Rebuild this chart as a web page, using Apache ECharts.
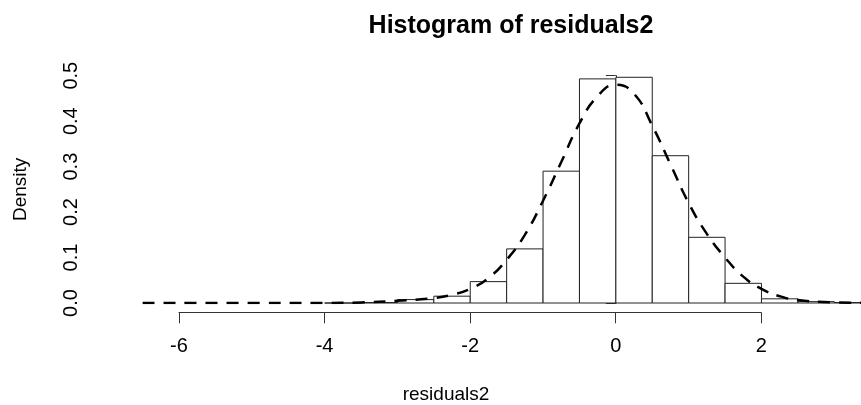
<!DOCTYPE html>
<html>
<head>
<meta charset="utf-8">
<script src="https://cdn.jsdelivr.net/npm/echarts@6/dist/echarts.min.js"></script>
<style>
  html, body { margin: 0; padding: 0; background: #fff; }
  #histChart { width: 861px; height: 405px; }
</style>
</head>
<body>
<div id="histChart"></div>
<script>
// histogram bins (break points) and density of each bin
var binBreaks = [-4, -3.5, -3, -2.5, -2, -1.5, -1, -0.5, 0, 0.5, 1, 1.5, 2, 2.5, 3, 3.5];
var binDensity = [0, 0.001, 0.0075, 0.015, 0.047, 0.119, 0.290, 0.493, 0.4965, 0.324, 0.1445, 0.0433, 0.0092, 0.003, 0.001];

// dashed normal curve
var curveX = [-6.5, -5, -4, -3.5, -3, -2.5, -2.25, -2, -1.75, -1.5, -1.25, -1, -0.75, -0.5, -0.25,
  0, 0.25, 0.5, 0.75, 1, 1.25, 1.5, 1.75, 2, 2.25, 2.5, 3, 3.4];
var curveY = [0, 0, 0.0002, 0.0012, 0.005, 0.011, 0.018, 0.031, 0.055, 0.095, 0.15, 0.225, 0.31, 0.395, 0.455,
  0.48, 0.46, 0.39, 0.305, 0.22, 0.152, 0.1, 0.058, 0.031, 0.015, 0.0066, 0.0015, 0.0003];

var xTicks = [-6, 2];
var yTicks = [0, 0.5];

var chart = echarts.init(document.getElementById('histChart'));

var barData = binDensity.map(function (d, i) {
  return [binBreaks[i], binBreaks[i + 1], d];
});
var curveData = curveX.map(function (x, i) {
  return [x, curveY[i]];
});

var font = 'Liberation Sans, Arial, sans-serif';

option = {
  animation: false,
  backgroundColor: '#fff',
  title: [{
    text: 'Histogram of residuals2',
    left: 506,
    textAlign: 'center',
    top: 9,
    textStyle: { fontFamily: font, fontSize: 25, fontWeight: 'bold', color: '#000' }
  }, {
    text: 'residuals2',
    left: 441,
    textAlign: 'center',
    top: 380,
    textStyle: { fontFamily: font, fontSize: 19, fontWeight: 'normal', color: '#000' }
  }],
  grid: [{
    left: 110, right: 0, top: 75.7, bottom: 102
  }, {
    left: 179, width: 582.3, top: 311.7, height: 1
  }],
  xAxis: [{
    type: 'value',
    gridIndex: 0,
    min: -6.948,
    max: 3.367,
    show: false
  }, {
    type: 'value',
    gridIndex: 1,
    min: xTicks[0],
    max: xTicks[1],
    interval: 2,
    axisLine: { show: true, lineStyle: { color: '#333', width: 1 } },
    axisTick: { show: true, length: 10.6, lineStyle: { color: '#333', width: 1 } },
    axisLabel: { margin: 24, fontSize: 20, fontFamily: font, color: '#000' },
    splitLine: { show: false }
  }],
  yAxis: [{
    type: 'value',
    gridIndex: 0,
    min: yTicks[0],
    max: yTicks[1],
    interval: 0.1,
    name: 'Density',
    nameLocation: 'middle',
    nameRotate: 90,
    nameGap: 80,
    nameTextStyle: { fontFamily: font, fontSize: 19, color: '#000' },
    axisLine: { show: true, lineStyle: { color: '#333', width: 1 } },
    axisTick: { show: true, length: 10, lineStyle: { color: '#333', width: 1 } },
    axisLabel: {
      rotate: 90,
      margin: 29,
      fontSize: 20,
      fontFamily: font,
      color: '#000',
      formatter: function (v) { return v.toFixed(1); }
    },
    splitLine: { show: false }
  }, {
    type: 'value',
    gridIndex: 1,
    show: false
  }],
  series: [{
    type: 'custom',
    xAxisIndex: 0,
    yAxisIndex: 0,
    renderItem: function (params, api) {
      var topLeft = api.coord([api.value(0), api.value(2)]);
      var bottomRight = api.coord([api.value(1), 0]);
      return {
        type: 'rect',
        shape: {
          x: topLeft[0],
          y: topLeft[1],
          width: bottomRight[0] - topLeft[0],
          height: bottomRight[1] - topLeft[1]
        },
        style: { fill: '#fff', stroke: '#222', lineWidth: 1 }
      };
    },
    data: barData
  }, {
    type: 'line',
    xAxisIndex: 0,
    yAxisIndex: 0,
    smooth: true,
    symbol: 'none',
    z: 5,
    lineStyle: { color: '#000', width: 2.5, type: [12, 9] },
    data: curveData
  }]
};

chart.setOption(option);
</script>
</body>
</html>
